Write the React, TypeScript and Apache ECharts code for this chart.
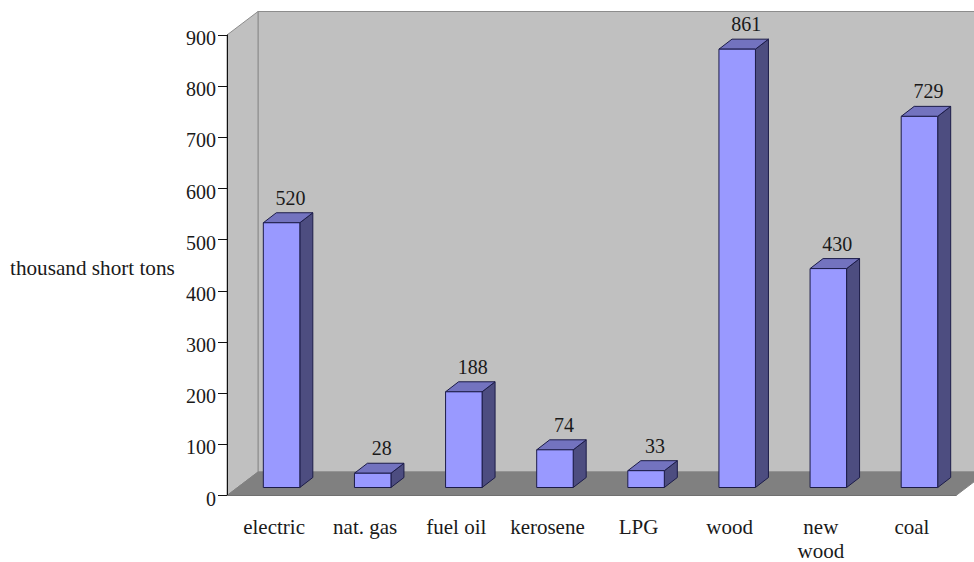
import React, { useEffect, useRef } from "react";
import * as echarts from "echarts";

const categories = ["electric", "nat. gas", "fuel oil", "kerosene", "LPG", "wood", "new\nwood", "coal"];
const values = [520, 28, 188, 74, 33, 861, 430, 729];
const yTicks = { min: 0, max: 900, interval: 100 };
const yTitle = "thousand short tons";

const SERIF = '"Liberation Serif", "Times New Roman", serif';
const TEXT = "#1a1a1a";
const DX = 31, DY = -23.5; // wall depth
const BX = 9, BY = -8;     // bar front offset from the axis plane
const SX = 13, SY = -10;   // bar depth
const BAR_W = 36.5;
const PERSPECTIVE = 0.995; // the bars stand further back than the axis plane
const STROKE = "#1c1c48";

function renderWalls(params: any) {
  const c = params.coordSys;
  const x0 = c.x, y0 = c.y, x1 = c.x + c.width, yb = c.y + c.height;
  const wall = { fill: "#c0c0c0", stroke: "#8c8c8c", lineWidth: 1 };
  return {
    type: "group",
    children: [
      { type: "polygon", shape: { points: [[x0 + DX, y0 + DY], [x1 + DX, y0 + DY], [x1 + DX, yb + DY], [x0 + DX, yb + DY]] }, style: wall },
      { type: "polygon", shape: { points: [[x0, y0], [x0 + DX, y0 + DY], [x0 + DX, yb + DY], [x0, yb]] }, style: wall },
      { type: "polygon", shape: { points: [[x0, yb], [x0 + DX, yb + DY], [x1 + DX, yb + DY], [x1, yb]] }, style: { fill: "#808080", stroke: "#808080", lineWidth: 1 } },
    ],
  };
}

function renderBar(_params: any, api: any) {
  const i = api.value(0), v = api.value(1);
  const base = api.coord([i, 0]);
  const top = api.coord([i, v]);
  const l = base[0] + BX - BAR_W / 2, r = l + BAR_W;
  const b = base[1] + BY, t = b - (base[1] - top[1]) * PERSPECTIVE;
  const line = { stroke: STROKE, lineWidth: 1, lineJoin: "round" };
  return {
    type: "group",
    children: [
      { type: "polygon", shape: { points: [[r, b], [r + SX, b + SY], [r + SX, t + SY], [r, t]] }, style: { fill: "#4d4d80", ...line } },
      { type: "polygon", shape: { points: [[l, t], [l + SX, t + SY], [r + SX, t + SY], [r, t]] }, style: { fill: "#7373bf", ...line } },
      { type: "polygon", shape: { points: [[l, b], [l, t], [r, t], [r, b]] }, style: { fill: "#9999ff", ...line } },
      {
        type: "text",
        style: {
          x: (l + r) / 2 + 9, y: t + SY - 15, text: String(v),
          align: "center", verticalAlign: "middle",
          fontFamily: SERIF, fontSize: 20, fill: TEXT,
        },
      },
    ],
  };
}

export default function App() {
  const ref = useRef<HTMLDivElement>(null);
  useEffect(() => {
    document.body.style.margin = "0";
    const chart = echarts.init(ref.current!, undefined, { renderer: "svg" });
    chart.setOption({
      animation: false,
      backgroundColor: "#ffffff",
      grid: { left: 227, top: 35, width: 729, height: 460.5, containLabel: false, outerBoundsMode: "none" },
      xAxis: {
        type: "category",
        data: categories,
        z: 6,
        axisLine: { lineStyle: { color: "#707070", width: 1 } },
        axisTick: { length: 8, lineStyle: { color: "#707070" } },
        axisLabel: { color: TEXT, fontFamily: SERIF, fontSize: 21, margin: 19.5, lineHeight: 24, interval: 0, padding: [0, 0, 0, 3] },
      },
      yAxis: {
        type: "value",
        ...yTicks,
        z: 6,
        splitLine: { show: false },
        axisLine: { show: true, lineStyle: { color: "#111111", width: 1 } },
        axisTick: { show: true, length: 9, lineStyle: { color: "#111111" } },
        axisLabel: { color: TEXT, fontFamily: SERIF, fontSize: 20, margin: 11, verticalAlign: "top", lineHeight: 6 },
      },
      graphic: [
        { type: "text", left: 10, top: 257, style: { text: yTitle, fontFamily: SERIF, fontSize: 21.2, fill: TEXT } },
      ],
      series: [
        { type: "custom", z: 1, silent: true, data: [[0, 0]], renderItem: renderWalls },
        { type: "custom", z: 8, silent: true, data: values.map((v, i) => [i, v]), encode: { x: 0, y: 1 }, renderItem: renderBar },
      ],
    });
    return () => chart.dispose();
  }, []);
  return <div ref={ref} style={{ width: 974, height: 562, position: "fixed", left: 0, top: 0 }} />;
}
